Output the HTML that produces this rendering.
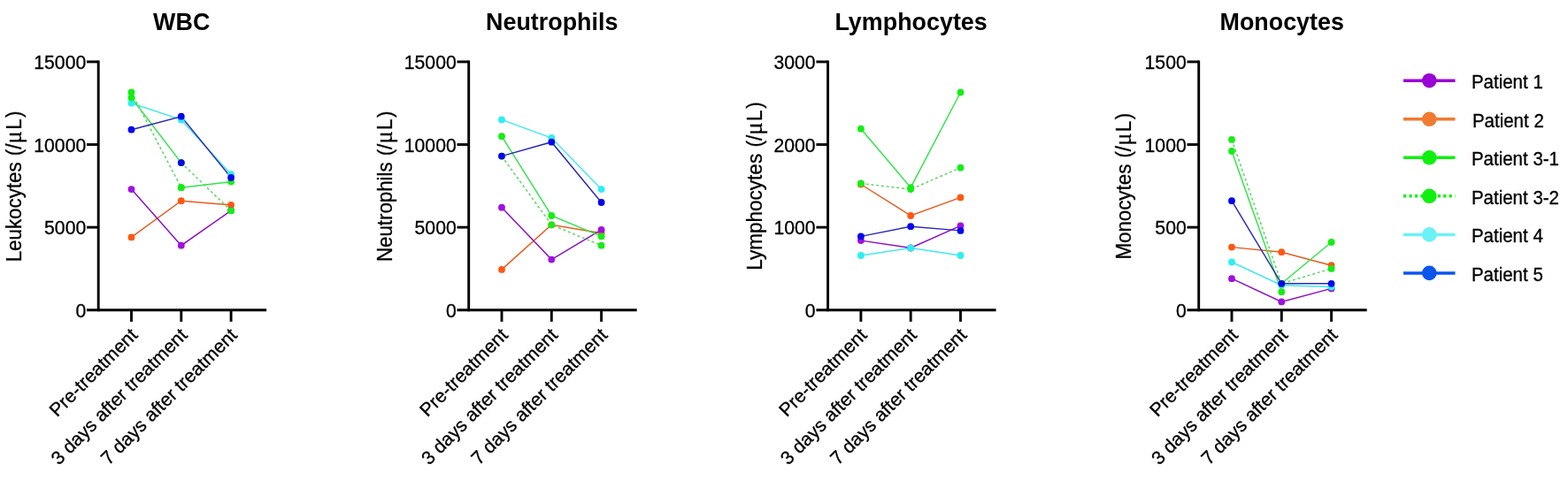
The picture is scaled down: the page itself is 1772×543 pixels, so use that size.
<!DOCTYPE html>
<html><head><meta charset="utf-8"><title>Blood cell counts</title>
<style>html,body{margin:0;padding:0;background:#fff}svg{display:block}text{font-family:"Liberation Sans",Arial,Helvetica,sans-serif;fill:#000}.t{font-size:26.9px;font-weight:bold;text-anchor:middle}.k{font-size:21.2px;text-anchor:end}.x{font-size:21.3px;text-anchor:end}.y{font-size:23.5px}.l{font-size:20.5px}.k,.x,.y,.l{stroke:#000;stroke-width:.3px}.ax{stroke:#000;stroke-width:2.9;fill:none;stroke-linecap:butt}</style></head><body>
<svg width="1772" height="543" viewBox="0 0 1772 543">
<rect width="1772" height="543" fill="#fff"/>
<g>
<text class="t" transform="translate(205.2,34.1) scale(1,1.035)">WBC</text>
<text class="y" transform="translate(23.8,296.3) rotate(-90) scale(0.95,1)" x="0" y="0">Leukocytes <tspan dx="1">(/</tspan><tspan dx="0.2" font-family="'Liberation Serif',serif" font-size="28px">μ</tspan><tspan dx="1.4">L</tspan><tspan dx="1.6">)</tspan></text>
<path d="M148.5 116.7 L204.8 135.4 L261.1 197.2" fill="none" stroke="#40eaea" stroke-width="1.45"/>
<path d="M148.5 268.4 L204.8 227.2 L261.1 231.9" fill="none" stroke="#e85a1c" stroke-width="1.45"/>
<path d="M148.5 214.1 L204.8 277.7 L261.1 238.2" fill="none" stroke="#8a0cc6" stroke-width="1.45"/>
<path d="M148.5 110.5 L204.8 184.1" fill="none" stroke="#30e448" stroke-width="1.45"/>
<path d="M204.8 212.2 L261.1 205.6" fill="none" stroke="#30e448" stroke-width="1.45"/>
<path d="M148.5 104.5 L204.8 212.2" fill="none" stroke="#5cd862" stroke-width="1.5" stroke-dasharray="3 2.8"/>
<path d="M204.8 184.1 L261.1 238.4" fill="none" stroke="#5cd862" stroke-width="1.5" stroke-dasharray="3 2.8"/>
<path d="M148.5 146.7 L204.8 131.7 L261.1 201.0" fill="none" stroke="#2a2ab4" stroke-width="1.45"/>
<circle cx="148.5" cy="268.4" r="3.9" fill="#ff5810"/>
<circle cx="204.8" cy="227.2" r="3.9" fill="#ff5810"/>
<circle cx="261.1" cy="231.9" r="3.9" fill="#ff5810"/>
<circle cx="148.5" cy="214.1" r="3.9" fill="#a010e0"/>
<circle cx="204.8" cy="277.7" r="3.9" fill="#a010e0"/>
<circle cx="261.1" cy="238.2" r="3.9" fill="#a010e0"/>
<circle cx="148.5" cy="116.7" r="3.9" fill="#2cf0f0"/>
<circle cx="204.8" cy="135.4" r="3.9" fill="#2cf0f0"/>
<circle cx="261.1" cy="197.2" r="3.9" fill="#2cf0f0"/>
<circle cx="148.5" cy="110.5" r="3.9" fill="#14ee14"/>
<circle cx="204.8" cy="184.1" r="3.9" fill="#14ee14"/>
<circle cx="204.8" cy="212.2" r="3.9" fill="#14ee14"/>
<circle cx="261.1" cy="205.6" r="3.9" fill="#14ee14"/>
<circle cx="148.5" cy="104.5" r="3.9" fill="#14ee14"/>
<circle cx="204.8" cy="212.2" r="3.9" fill="#14ee14"/>
<circle cx="204.8" cy="184.1" r="3.9" fill="#14ee14"/>
<circle cx="261.1" cy="238.4" r="3.9" fill="#14ee14"/>
<circle cx="148.5" cy="146.7" r="3.9" fill="#0606ee"/>
<circle cx="204.8" cy="131.7" r="3.9" fill="#0606ee"/>
<circle cx="261.1" cy="201.0" r="3.9" fill="#0606ee"/>
<circle cx="204.8" cy="184.1" r="3.9" fill="#0606ee"/>
<path class="ax" d="M111.2 68.4 V352.2"/>
<path class="ax" d="M98.0 350.75 H301.2"/>
<path class="ax" d="M98.0 257.13 H111.2"/>
<path class="ax" d="M98.0 163.52 H111.2"/>
<path class="ax" d="M98.0 69.90 H111.2"/>
<text class="k" transform="translate(97.2,358.8) scale(1,1.08)">0</text>
<text class="k" transform="translate(97.2,265.1) scale(1,1.08)">5000</text>
<text class="k" transform="translate(97.2,171.5) scale(1,1.08)">10000</text>
<text class="k" transform="translate(97.2,77.9) scale(1,1.08)">15000</text>
<path class="ax" d="M148.5 350.8 V363.9"/>
<text class="x" transform="translate(156.6,380.4) rotate(-45)">Pre-treatment</text>
<path class="ax" d="M204.8 350.8 V363.9"/>
<text class="x" transform="translate(212.9,380.4) rotate(-45)">3 days after treatment</text>
<path class="ax" d="M261.1 350.8 V363.9"/>
<text class="x" transform="translate(269.2,380.4) rotate(-45)">7 days after treatment</text>
</g>
<g>
<text class="t" transform="translate(623.7,34.1) scale(1,1.035)">Neutrophils</text>
<text class="y" transform="translate(442.7,296.0) rotate(-90) scale(0.948,1)" x="0" y="0">Neutrophils <tspan dx="1">(/</tspan><tspan dx="0.2" font-family="'Liberation Serif',serif" font-size="28px">μ</tspan><tspan dx="1.4">L</tspan><tspan dx="1.6">)</tspan></text>
<path d="M567.0 135.4 L623.3 156.0 L679.6 214.1" fill="none" stroke="#40eaea" stroke-width="1.45"/>
<path d="M567.0 304.9 L623.3 254.3 L679.6 263.7" fill="none" stroke="#e85a1c" stroke-width="1.45"/>
<path d="M567.0 234.7 L623.3 293.6 L679.6 259.9" fill="none" stroke="#8a0cc6" stroke-width="1.45"/>
<path d="M567.0 154.2 L623.3 244.0 L679.6 267.4" fill="none" stroke="#30e448" stroke-width="1.45"/>
<path d="M567.0 176.6 L623.3 254.3 L679.6 277.7" fill="none" stroke="#5cd862" stroke-width="1.5" stroke-dasharray="3 2.8"/>
<path d="M567.0 176.6 L623.3 160.7 L679.6 229.0" fill="none" stroke="#2a2ab4" stroke-width="1.45"/>
<circle cx="567.0" cy="304.9" r="3.9" fill="#ff5810"/>
<circle cx="623.3" cy="254.3" r="3.9" fill="#ff5810"/>
<circle cx="679.6" cy="263.7" r="3.9" fill="#ff5810"/>
<circle cx="567.0" cy="234.7" r="3.9" fill="#a010e0"/>
<circle cx="623.3" cy="293.6" r="3.9" fill="#a010e0"/>
<circle cx="679.6" cy="259.9" r="3.9" fill="#a010e0"/>
<circle cx="567.0" cy="135.4" r="3.9" fill="#2cf0f0"/>
<circle cx="623.3" cy="156.0" r="3.9" fill="#2cf0f0"/>
<circle cx="679.6" cy="214.1" r="3.9" fill="#2cf0f0"/>
<circle cx="567.0" cy="154.2" r="3.9" fill="#14ee14"/>
<circle cx="623.3" cy="244.0" r="3.9" fill="#14ee14"/>
<circle cx="679.6" cy="267.4" r="3.9" fill="#14ee14"/>
<circle cx="567.0" cy="176.6" r="3.9" fill="#14ee14"/>
<circle cx="623.3" cy="254.3" r="3.9" fill="#14ee14"/>
<circle cx="679.6" cy="277.7" r="3.9" fill="#14ee14"/>
<circle cx="567.0" cy="176.6" r="3.9" fill="#0606ee"/>
<circle cx="623.3" cy="160.7" r="3.9" fill="#0606ee"/>
<circle cx="679.6" cy="229.0" r="3.9" fill="#0606ee"/>
<path class="ax" d="M529.7 68.4 V352.2"/>
<path class="ax" d="M516.5 350.75 H719.7"/>
<path class="ax" d="M516.5 257.13 H529.7"/>
<path class="ax" d="M516.5 163.52 H529.7"/>
<path class="ax" d="M516.5 69.90 H529.7"/>
<text class="k" transform="translate(515.7,358.8) scale(1,1.08)">0</text>
<text class="k" transform="translate(515.7,265.1) scale(1,1.08)">5000</text>
<text class="k" transform="translate(515.7,171.5) scale(1,1.08)">10000</text>
<text class="k" transform="translate(515.7,77.9) scale(1,1.08)">15000</text>
<path class="ax" d="M567.0 350.8 V363.9"/>
<text class="x" transform="translate(575.1,380.4) rotate(-45)">Pre-treatment</text>
<path class="ax" d="M623.3 350.8 V363.9"/>
<text class="x" transform="translate(631.4,380.4) rotate(-45)">3 days after treatment</text>
<path class="ax" d="M679.6 350.8 V363.9"/>
<text class="x" transform="translate(687.7,380.4) rotate(-45)">7 days after treatment</text>
</g>
<g>
<text class="t" transform="translate(1029.6,34.1) scale(1,1.035)">Lymphocytes</text>
<text class="y" transform="translate(860.7,305.8) rotate(-90) scale(0.96,1)" x="0" y="0">Lymphocytes <tspan dx="1">(/</tspan><tspan dx="0.2" font-family="'Liberation Serif',serif" font-size="28px">μ</tspan><tspan dx="1.4">L</tspan><tspan dx="1.6">)</tspan></text>
<path d="M972.9 289.0 L1029.2 280.5 L1085.5 289.0" fill="none" stroke="#40eaea" stroke-width="1.45"/>
<path d="M972.9 208.5 L1029.2 244.0 L1085.5 223.4" fill="none" stroke="#e85a1c" stroke-width="1.45"/>
<path d="M972.9 272.1 L1029.2 280.5 L1085.5 255.3" fill="none" stroke="#8a0cc6" stroke-width="1.45"/>
<path d="M972.9 145.7 L1029.2 212.2 L1085.5 104.5" fill="none" stroke="#30e448" stroke-width="1.45"/>
<path d="M972.9 207.5 L1029.2 214.1 L1085.5 189.7" fill="none" stroke="#5cd862" stroke-width="1.5" stroke-dasharray="3 2.8"/>
<path d="M972.9 267.4 L1029.2 256.2 L1085.5 260.9" fill="none" stroke="#2a2ab4" stroke-width="1.45"/>
<circle cx="972.9" cy="208.5" r="3.9" fill="#ff5810"/>
<circle cx="1029.2" cy="244.0" r="3.9" fill="#ff5810"/>
<circle cx="1085.5" cy="223.4" r="3.9" fill="#ff5810"/>
<circle cx="972.9" cy="272.1" r="3.9" fill="#a010e0"/>
<circle cx="1029.2" cy="280.5" r="3.9" fill="#a010e0"/>
<circle cx="1085.5" cy="255.3" r="3.9" fill="#a010e0"/>
<circle cx="972.9" cy="289.0" r="3.9" fill="#2cf0f0"/>
<circle cx="1029.2" cy="280.5" r="3.9" fill="#2cf0f0"/>
<circle cx="1085.5" cy="289.0" r="3.9" fill="#2cf0f0"/>
<circle cx="972.9" cy="145.7" r="3.9" fill="#14ee14"/>
<circle cx="1029.2" cy="212.2" r="3.9" fill="#14ee14"/>
<circle cx="1085.5" cy="104.5" r="3.9" fill="#14ee14"/>
<circle cx="972.9" cy="207.5" r="3.9" fill="#14ee14"/>
<circle cx="1029.2" cy="214.1" r="3.9" fill="#14ee14"/>
<circle cx="1085.5" cy="189.7" r="3.9" fill="#14ee14"/>
<circle cx="972.9" cy="267.4" r="3.9" fill="#0606ee"/>
<circle cx="1029.2" cy="256.2" r="3.9" fill="#0606ee"/>
<circle cx="1085.5" cy="260.9" r="3.9" fill="#0606ee"/>
<path class="ax" d="M935.6 68.4 V352.2"/>
<path class="ax" d="M922.4 350.75 H1125.6"/>
<path class="ax" d="M922.4 257.13 H935.6"/>
<path class="ax" d="M922.4 163.52 H935.6"/>
<path class="ax" d="M922.4 69.90 H935.6"/>
<text class="k" transform="translate(921.6,358.8) scale(1,1.08)">0</text>
<text class="k" transform="translate(921.6,265.1) scale(1,1.08)">1000</text>
<text class="k" transform="translate(921.6,171.5) scale(1,1.08)">2000</text>
<text class="k" transform="translate(921.6,77.9) scale(1,1.08)">3000</text>
<path class="ax" d="M972.9 350.8 V363.9"/>
<text class="x" transform="translate(981.0,380.4) rotate(-45)">Pre-treatment</text>
<path class="ax" d="M1029.2 350.8 V363.9"/>
<text class="x" transform="translate(1037.3,380.4) rotate(-45)">3 days after treatment</text>
<path class="ax" d="M1085.5 350.8 V363.9"/>
<text class="x" transform="translate(1093.6,380.4) rotate(-45)">7 days after treatment</text>
</g>
<g>
<text class="t" transform="translate(1448.7,34.1) scale(1,1.035)">Monocytes</text>
<text class="y" transform="translate(1277.5,293.6) rotate(-90) scale(0.95,1)" x="0" y="0">Monocytes <tspan dx="1">(/</tspan><tspan dx="0.2" font-family="'Liberation Serif',serif" font-size="28px">μ</tspan><tspan dx="1.4">L</tspan><tspan dx="1.6">)</tspan></text>
<path d="M1392.0 296.5 L1448.3 322.7 L1504.6 324.5" fill="none" stroke="#40eaea" stroke-width="1.45"/>
<path d="M1392.0 279.6 L1448.3 285.2 L1504.6 300.2" fill="none" stroke="#e85a1c" stroke-width="1.45"/>
<path d="M1392.0 315.2 L1448.3 341.4 L1504.6 326.4" fill="none" stroke="#8a0cc6" stroke-width="1.45"/>
<path d="M1392.0 171.0 L1448.3 330.2" fill="none" stroke="#30e448" stroke-width="1.45"/>
<path d="M1448.3 320.8 L1504.6 274.0" fill="none" stroke="#30e448" stroke-width="1.45"/>
<path d="M1392.0 157.9 L1448.3 320.8 L1504.6 303.9" fill="none" stroke="#5cd862" stroke-width="1.5" stroke-dasharray="3 2.8"/>
<path d="M1392.0 227.2 L1448.3 320.8 L1504.6 320.8" fill="none" stroke="#2a2ab4" stroke-width="1.45"/>
<circle cx="1392.0" cy="279.6" r="3.9" fill="#ff5810"/>
<circle cx="1448.3" cy="285.2" r="3.9" fill="#ff5810"/>
<circle cx="1504.6" cy="300.2" r="3.9" fill="#ff5810"/>
<circle cx="1392.0" cy="315.2" r="3.9" fill="#a010e0"/>
<circle cx="1448.3" cy="341.4" r="3.9" fill="#a010e0"/>
<circle cx="1504.6" cy="326.4" r="3.9" fill="#a010e0"/>
<circle cx="1392.0" cy="296.5" r="3.9" fill="#2cf0f0"/>
<circle cx="1448.3" cy="322.7" r="3.9" fill="#2cf0f0"/>
<circle cx="1504.6" cy="324.5" r="3.9" fill="#2cf0f0"/>
<circle cx="1392.0" cy="171.0" r="3.9" fill="#14ee14"/>
<circle cx="1448.3" cy="330.2" r="3.9" fill="#14ee14"/>
<circle cx="1448.3" cy="320.8" r="3.9" fill="#14ee14"/>
<circle cx="1504.6" cy="274.0" r="3.9" fill="#14ee14"/>
<circle cx="1392.0" cy="157.9" r="3.9" fill="#14ee14"/>
<circle cx="1448.3" cy="320.8" r="3.9" fill="#14ee14"/>
<circle cx="1504.6" cy="303.9" r="3.9" fill="#14ee14"/>
<circle cx="1392.0" cy="227.2" r="3.9" fill="#0606ee"/>
<circle cx="1448.3" cy="320.8" r="3.9" fill="#0606ee"/>
<circle cx="1504.6" cy="320.8" r="3.9" fill="#0606ee"/>
<path class="ax" d="M1354.7 68.4 V352.2"/>
<path class="ax" d="M1341.5 350.75 H1544.7"/>
<path class="ax" d="M1341.5 257.13 H1354.7"/>
<path class="ax" d="M1341.5 163.52 H1354.7"/>
<path class="ax" d="M1341.5 69.90 H1354.7"/>
<text class="k" transform="translate(1340.7,358.8) scale(1,1.08)">0</text>
<text class="k" transform="translate(1340.7,265.1) scale(1,1.08)">500</text>
<text class="k" transform="translate(1340.7,171.5) scale(1,1.08)">1000</text>
<text class="k" transform="translate(1340.7,77.9) scale(1,1.08)">1500</text>
<path class="ax" d="M1392.0 350.8 V363.9"/>
<text class="x" transform="translate(1400.1,380.4) rotate(-45)">Pre-treatment</text>
<path class="ax" d="M1448.3 350.8 V363.9"/>
<text class="x" transform="translate(1456.4,380.4) rotate(-45)">3 days after treatment</text>
<path class="ax" d="M1504.6 350.8 V363.9"/>
<text class="x" transform="translate(1512.7,380.4) rotate(-45)">7 days after treatment</text>
</g>
<path d="M1586 91.2 H1644.5" stroke="#9a00d6" stroke-width="3.5" fill="none"/>
<circle cx="1615.3" cy="91.2" r="8.3" fill="#9a00d6"/>
<text class="l" transform="translate(1662.9,100.0) scale(1,1.07)">Patient 1</text>
<path d="M1586 134.8 H1644.5" stroke="#f07a30" stroke-width="3.5" fill="none"/>
<circle cx="1615.3" cy="134.8" r="8.3" fill="#f07a30"/>
<text class="l" transform="translate(1663.9,143.6) scale(1,1.07)">Patient 2</text>
<path d="M1586 178.3 H1644.5" stroke="#10f010" stroke-width="3.5" fill="none"/>
<circle cx="1615.3" cy="178.3" r="8.3" fill="#10f010"/>
<text class="l" transform="translate(1662.9,187.1) scale(1,1.07)">Patient 3-1</text>
<path d="M1586 221.8 H1644.5" stroke="#10f010" stroke-width="3.5" fill="none" stroke-dasharray="3.2 3.25"/>
<circle cx="1615.3" cy="221.8" r="8.3" fill="#10f010"/>
<text class="l" transform="translate(1662.9,230.6) scale(1,1.07)">Patient 3-2</text>
<path d="M1586 265.4 H1644.5" stroke="#6af2f6" stroke-width="3.5" fill="none"/>
<circle cx="1615.3" cy="265.4" r="8.3" fill="#6af2f6"/>
<text class="l" transform="translate(1662.9,274.2) scale(1,1.07)">Patient 4</text>
<path d="M1586 308.9 H1644.5" stroke="#0a55ee" stroke-width="3.5" fill="none"/>
<circle cx="1615.3" cy="308.9" r="8.3" fill="#0a55ee"/>
<text class="l" transform="translate(1662.9,317.8) scale(1,1.07)">Patient 5</text>
</svg></body></html>
